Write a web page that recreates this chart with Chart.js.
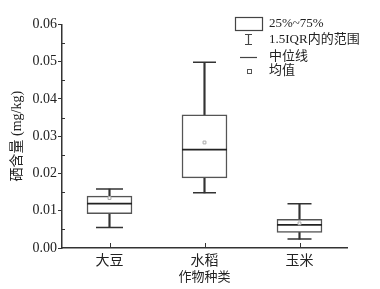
<!DOCTYPE html>
<html>
<head>
<meta charset="utf-8">
<script src="https://cdn.jsdelivr.net/npm/chart.js@4/dist/chart.umd.min.js"></script>
<style>
  html, body { margin: 0; padding: 0; background: #fff; }
  #wrap { width: 380px; height: 289px; }
</style>
</head>
<body>
<div id="wrap"><canvas id="c" width="380" height="289"></canvas></div>
<script>
// ---------- data ----------
const crops = ['大豆', '水稻', '玉米'];
const q1Vals = [0.0092, 0.0188, 0.0042];
const q3Vals = [0.0139, 0.0357, 0.0077];
const medianVals = [0.0119, 0.0264, 0.0062];
const minVals = [0.0055, 0.0148, 0.0024];
const maxVals = [0.0158, 0.0498, 0.0119];
const meanVals = [0.0134, 0.0283, 0.0066];
const yTicks = [0, 0.01, 0.02, 0.03, 0.04, 0.05, 0.06];
const legendLabels = ['25%~75%', '1.5IQR内的范围', '中位线', '均值'];

const SERIF = "'Liberation Serif', 'Noto Sans CJK SC', serif";
const INK = '#333';
Chart.defaults.font.family = SERIF;
Chart.defaults.color = '#222';

// ---------- minor ticks, inner x ticks, legend ----------
const extras = {
  id: 'extras',
  afterDraw(chart) {
    const { ctx, scales: { x, y }, chartArea: a } = chart;
    ctx.save();
    ctx.strokeStyle = INK;
    ctx.lineWidth = 1;
    // minor y ticks (inside)
    for (let i = 0; i < yTicks.length - 1; i++) {
      const py = Math.round(y.getPixelForValue((yTicks[i] + yTicks[i + 1]) / 2)) + 0.5;
      ctx.beginPath(); ctx.moveTo(a.left, py); ctx.lineTo(a.left + 3, py); ctx.stroke();
    }
    // x ticks (inside)
    crops.forEach((c, i) => {
      const px = Math.round(x.getPixelForValue(i)) + 0.5;
      ctx.beginPath(); ctx.moveTo(px, a.bottom); ctx.lineTo(px, a.bottom - 5); ctx.stroke();
    });

    // legend
    const lx = 269;
    const rows = [24, 40, 57, 71];
    ctx.font = '13px ' + SERIF;
    ctx.fillStyle = '#222';
    ctx.textBaseline = 'middle';
    legendLabels.forEach((t, i) => ctx.fillText(t, lx, rows[i]));
    ctx.strokeStyle = '#444';
    ctx.lineWidth = 1.2;
    ctx.strokeRect(235.5, 17.5, 27, 13);
    // whisker symbol
    ctx.beginPath();
    ctx.moveTo(248.5, 34); ctx.lineTo(248.5, 45);
    ctx.moveTo(245, 34.5); ctx.lineTo(252, 34.5);
    ctx.moveTo(245, 44.5); ctx.lineTo(252, 44.5);
    ctx.stroke();
    // median symbol
    ctx.beginPath(); ctx.moveTo(240, 57.5); ctx.lineTo(257, 57.5); ctx.stroke();
    // mean symbol
    ctx.lineWidth = 1;
    ctx.strokeStyle = '#555';
    ctx.strokeRect(247.5, 69.5, 4, 4);
    ctx.restore();
  }
};

new Chart(document.getElementById('c'), {
  data: {
    labels: crops,
    datasets: [
      {
        type: 'bar',
        label: 'whisker',
        data: crops.map((c, i) => [minVals[i], maxVals[i]]),
        backgroundColor: INK,
        barThickness: 1.5,
        grouped: false,
        order: 4,
      },
      {
        type: 'bar',
        label: 'box',
        data: crops.map((c, i) => [q1Vals[i], q3Vals[i]]),
        backgroundColor: '#fff',
        borderColor: '#555',
        borderWidth: 1.5,
        borderSkipped: false,
        barThickness: 45,
        grouped: false,
        order: 3,
      },
      {
        type: 'line',
        label: 'max',
        data: maxVals,
        showLine: false,
        pointStyle: 'line',
        pointRadius: [13.5, 11.5, 12],
        pointBorderWidth: 1.5,
        pointBorderColor: INK,
        order: 2,
      },
      {
        type: 'line',
        label: 'min',
        data: minVals,
        showLine: false,
        pointStyle: 'line',
        pointRadius: [13.5, 11.5, 12],
        pointBorderWidth: 1.5,
        pointBorderColor: INK,
        order: 2,
      },
      {
        type: 'line',
        label: 'median',
        data: medianVals,
        showLine: false,
        pointStyle: 'line',
        pointRadius: 22.5,
        pointBorderWidth: 1.8,
        pointBorderColor: '#222',
        order: 1,
      },
      {
        type: 'line',
        label: 'mean',
        data: meanVals,
        showLine: false,
        pointStyle: 'rect',
        pointRadius: 2,
        pointBorderWidth: 1,
        pointBorderColor: '#aaa',
        pointBackgroundColor: '#fff',
        order: 0,
      },
    ],
  },
  options: {
    responsive: false,
    animation: false,
    events: [],
    layout: { padding: { top: 18, right: 33, left: 0, bottom: 0 } },
    plugins: { legend: { display: false }, tooltip: { enabled: false } },
    scales: {
      x: {
        type: 'category',
        offset: true,
        grid: { display: false, drawTicks: false },
        border: { color: INK, width: 1.5 },
        ticks: { font: { size: 14 }, padding: 5, color: '#222' },
        title: { display: true, text: '作物种类', font: { size: 13 }, padding: { top: 0, bottom: 4 }, color: '#222' },
        afterFit: (s) => { s.height = 41; },
      },
      y: {
        min: 0,
        max: 0.06,
        afterBuildTicks: (s) => { s.ticks = yTicks.map((v) => ({ value: v })); },
        grid: { drawOnChartArea: false, tickLength: 4, color: INK, tickWidth: 1 },
        border: { color: INK, width: 1.5 },
        ticks: { font: { size: 14 }, padding: 1, color: '#222', callback: (v) => v.toFixed(2) },
        title: { display: true, text: '硒含量 (mg/kg)', font: { size: 14 }, padding: { top: 9, bottom: 0 }, color: '#222' },
        afterFit: (s) => { s.width = 62; },
      },
    },
  },
  plugins: [extras],
});
</script>
</body>
</html>
